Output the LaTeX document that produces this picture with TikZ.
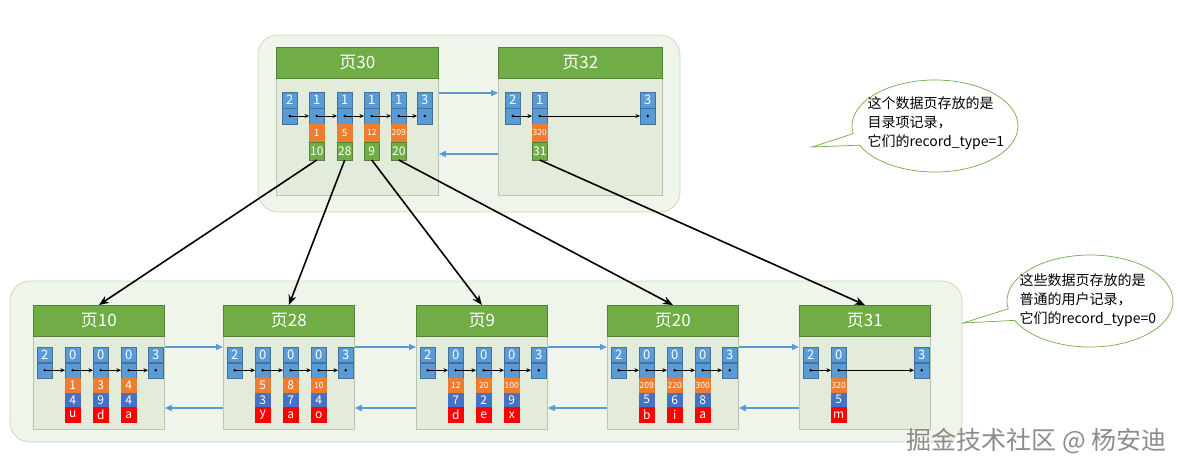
\documentclass[tikz,border=0pt]{standalone}
\usepackage{fontspec}
\setmainfont{Noto Sans CJK SC}
\usetikzlibrary{arrows.meta,shapes.callouts}
\definecolor{cblue}{HTML}{5B9BD5}
\definecolor{cbluedk}{HTML}{41719C}
\definecolor{cdblue}{HTML}{4472C4}
\definecolor{corange}{HTML}{ED7D31}
\definecolor{cgreen}{HTML}{70AD47}
\definecolor{cgreendk}{HTML}{548235}
\definecolor{cred}{HTML}{FF0000}
\definecolor{cpage}{HTML}{E3ECDB}
\definecolor{cpageb}{HTML}{B9C6B0}
\definecolor{ccont}{HTML}{EFF5EA}
\definecolor{ccontb}{HTML}{C9DDB9}
\tikzset{
 cell/.style={rectangle, inner sep=0pt, minimum width=15pt, text=white, line width=0.5pt, font=\fontsize{12}{12}\selectfont},
 bT/.style={cell, fill=cblue, draw=cbluedk, minimum height=15.5pt, font=\fontsize{13}{13}\selectfont},
 oT/.style={cell, fill=corange, draw=corange, minimum height=17pt},
 gT/.style={cell, fill=cgreen, draw=cgreendk, minimum height=18pt},
 bB/.style={cell, fill=cblue, draw=cbluedk, minimum height=15pt, font=\fontsize{13}{13}\selectfont},
 oB/.style={cell, fill=corange, draw=corange, minimum height=14pt},
 dB/.style={cell, fill=cdblue, draw=cdblue, minimum height=14pt},
 rB/.style={cell, fill=cred, draw=cred, minimum height=15pt},
 pagebox/.style={rectangle, fill=cpage, draw=cpageb, line width=0.8pt, inner sep=0pt},
 hdr/.style={rectangle, fill=cgreen, draw=cgreendk, line width=0.8pt, minimum height=31pt, inner sep=0pt, text=white, font=\fontsize{17}{17}\selectfont},
 cont/.style={fill=ccont, draw=ccontb, line width=0.8pt, rounded corners=20pt},
 rarr/.style={-{Stealth[length=4.5pt,width=4pt]}, line width=0.7pt, black},
 barr/.style={-{Triangle[length=7pt,width=6pt]}, line width=1.4pt, cblue},
 tarr/.style={-{Stealth[length=10pt,width=8pt]}, line width=1.6pt, black},
 callbox/.style={ellipse callout, draw=cgreen, fill=white, line width=0.7pt, minimum width=166pt, minimum height=92pt},
 calltxt/.style={align=left, anchor=west, font=\fontsize{14}{19}\selectfont},
}
\newcommand\sm[1]{{\fontsize{8.5}{8.5}\selectfont #1}}
\newcommand\md[1]{{\fontsize{10}{10}\selectfont #1}}
\newcommand\rrec[5]{%
 \node[#5,anchor=north west] (U#1) at (#2,#3) {#4};
 \node[#5,anchor=north] (L#1) at (U#1.south) {};
 \fill (L#1.center) circle[radius=1.3pt];}
\newcommand\rsub[4]{\node[#1,anchor=north] (#2) at (#3.south) {#4};}
\newcommand\bpage[2]{%
 \node[pagebox,minimum width=131pt,minimum height=124pt,anchor=north west] (pg#1) at (#2,305) {};
 \node[hdr,minimum width=131pt,anchor=north west] (h#1) at (#2,305) {页#1};
 \rrec{#1a}{#2+4}{347}{2}{bB}
 \rrec{#1z}{#2+115}{347}{3}{bB}}
\newcommand\brec[5]{%
 \rrec{#1}{#2}{347}{0}{bB}
 \rsub{oB}{O#1}{L#1}{#3}
 \rsub{dB}{D#1}{O#1}{#4}
 \rsub{rB}{R#1}{D#1}{#5}}
\begin{document}
\begin{tikzpicture}[x=1pt,y=-1pt]
\useasboundingbox (0,0) rectangle (1181,472);
\fill[white] (0,0) rectangle (1181,472);
% containers
\draw[cont] (258,35) rectangle (680,212);
\draw[cont] (10,281) rectangle (962,442);
% page 30
\node[pagebox,minimum width=162pt,minimum height=148pt,anchor=north west] (pg30) at (276,47) {};
\node[hdr,minimum width=162pt,anchor=north west] (h30) at (276,47) {页30};
\rrec{p30a}{282}{92}{2}{bT}
\rrec{p30b}{309}{92}{1}{bT}
\rrec{p30c}{337}{92}{1}{bT}
\rrec{p30d}{364}{92}{1}{bT}
\rrec{p30e}{391}{92}{1}{bT}
\rrec{p30f}{417}{92}{3}{bT}
\rsub{oT}{Op30b}{Lp30b}{\md{1}}
\rsub{oT}{Op30c}{Lp30c}{\md{5}}
\rsub{oT}{Op30d}{Lp30d}{\sm{12}}
\rsub{oT}{Op30e}{Lp30e}{\sm{209}}
\rsub{gT}{Gp30b}{Op30b}{10}
\rsub{gT}{Gp30c}{Op30c}{28}
\rsub{gT}{Gp30d}{Op30d}{9}
\rsub{gT}{Gp30e}{Op30e}{20}
\foreach \u/\v in {p30a/p30b,p30b/p30c,p30c/p30d,p30d/p30e,p30e/p30f}
  \draw[rarr] (L\u.center) -- (L\v.west);
% page 32
\node[pagebox,minimum width=164pt,minimum height=148pt,anchor=north west] (pg32) at (498,47) {};
\node[hdr,minimum width=164pt,anchor=north west] (h32) at (498,47) {页32};
\rrec{p32a}{505}{92}{2}{bT}
\rrec{p32b}{532}{92}{1}{bT}
\rrec{p32f}{640}{92}{3}{bT}
\rsub{oT}{Op32b}{Lp32b}{\sm{320}}
\rsub{gT}{Gp32b}{Op32b}{31}
\draw[rarr] (Lp32a.center) -- (Lp32b.west);
\draw[rarr] (Lp32b.center) -- (Lp32f.west);
% top links
\draw[barr] ([yshift=-46pt]pg30.north east) -- ([yshift=-46pt]pg32.north west);
\draw[barr] ([yshift=-107pt]pg32.north west) -- ([yshift=-107pt]pg30.north east);
% bottom pages
\bpage{10}{33}
\brec{10b}{33+32}{1}{4}{u}
\brec{10c}{33+60}{3}{9}{d}
\brec{10d}{33+88}{4}{4}{a}
\bpage{28}{223}
\brec{28b}{223+32}{5}{3}{y}
\brec{28c}{223+60}{8}{7}{a}
\brec{28d}{223+88}{\sm{10}}{4}{o}
\bpage{9}{416}
\brec{9b}{416+32}{\sm{12}}{7}{d}
\brec{9c}{416+60}{\sm{20}}{2}{e}
\brec{9d}{416+88}{\sm{100}}{9}{x}
\bpage{20}{607}
\brec{20b}{607+32}{\sm{209}}{5}{b}
\brec{20c}{607+60}{\sm{220}}{6}{i}
\brec{20d}{607+88}{\sm{300}}{8}{a}
\bpage{31}{799}
\brec{31b}{799+32}{\sm{320}}{5}{m}
\foreach \p in {10,28,9,20}{
  \draw[rarr] (L\p a.center) -- (L\p b.west);
  \draw[rarr] (L\p b.center) -- (L\p c.west);
  \draw[rarr] (L\p c.center) -- (L\p d.west);
  \draw[rarr] (L\p d.center) -- (L\p z.west);
}
\draw[rarr] (L31a.center) -- (L31b.west);
\draw[rarr] (L31b.center) -- (L31z.west);
% bottom links
\foreach \a/\b in {10/28,28/9,9/20,20/31}{
  \draw[barr] ([yshift=-42pt]pg\a.north east) -- ([yshift=-42pt]pg\b.north west);
  \draw[barr] ([yshift=-103pt]pg\b.north west) -- ([yshift=-103pt]pg\a.north east);
}
% tree pointers
\draw[tarr] (Gp30b.south) -- (h10.north);
\draw[tarr] (Gp30c.south) -- (h28.north);
\draw[tarr] (Gp30d.south) -- (h9.north);
\draw[tarr] (Gp30e.south) -- (h20.north);
\draw[tarr] (Gp32b.south) -- (h31.north);
% callouts
\node[callbox, callout absolute pointer={(812,147)}] (c1) at (935,126) {};
\node[calltxt] (t1) at (864,123) {这个数据页存放的是\\目录项记录，\\它们的record\_type=1};
\node[callbox, callout absolute pointer={(963,323)}] (c2) at (1090,301) {};
\node[calltxt] (t2) at (1016,300) {这些数据页存放的是\\普通的用户记录，\\它们的record\_type=0};
% watermark
\node[font=\fontsize{25}{25}\selectfont, text=black!45, anchor=west] (wm) at (903,441) {掘金技术社区 @ 杨安迪};
\end{tikzpicture}
\end{document}
